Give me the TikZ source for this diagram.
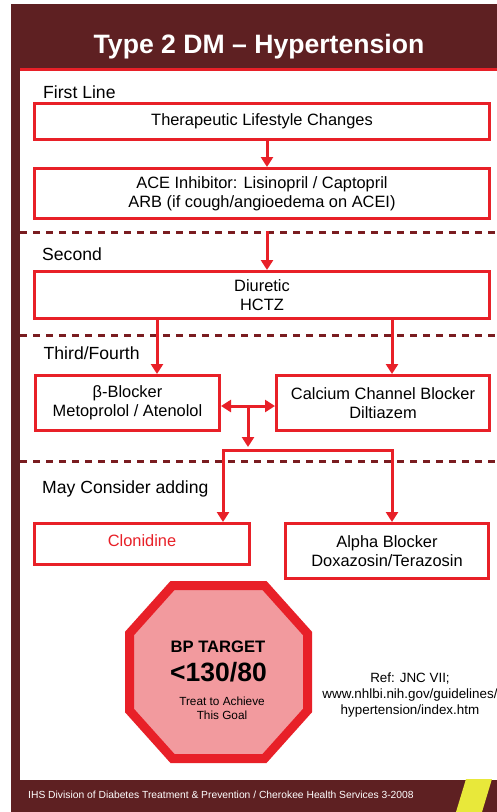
\documentclass[tikz,border=0pt]{standalone}
\usepackage{fontspec}
\setmainfont{Liberation Sans}
\usetikzlibrary{arrows.meta}
\definecolor{frame}{RGB}{94,32,34}
\definecolor{boxred}{RGB}{232,32,40}
\definecolor{dashred}{RGB}{122,28,32}
\definecolor{stoppink}{RGB}{242,154,158}
\definecolor{flash}{RGB}{232,232,58}
\tikzset{box/.style = {draw = boxred, line width = 3, fill = white, align = center,
                       inner sep = 0, font = \fontsize{16.4}{19.4}\selectfont}}
\tikzset{stage/.style = {anchor = base west, inner sep = 0, font = \fontsize{17.6}{20}\selectfont}}
\tikzset{sep/.style = {draw = dashred, line width = 3, dash pattern = on 7pt off 6pt}}
\tikzset{flow/.style = {draw = boxred, line width = 3, -{Triangle[length = 10pt, width = 12pt]}}}
\tikzset{both/.style = {draw = boxred, line width = 3,
                        {Triangle[length = 10pt, width = 12pt]}-{Triangle[length = 10pt, width = 12pt]}}}
\tikzset{goaltext/.style = {anchor = base, inner sep = 0}}

\begin{document}
\begin{tikzpicture}[x = 1pt, y = -1pt]
    \useasboundingbox (0, 0) rectangle (497, 812);
    \clip (0, 0) rectangle (497, 812);
    \fill [white] (0, 0) rectangle (497, 812);
    \fill [frame] (11, 4) rectangle (497, 812);
    \fill [white] (20, 69) rectangle (497, 780);
    \fill [flash] (456, 812) -- (466, 779) -- (492, 779) -- (482, 812) -- cycle;
    \draw [boxred, line width = 2.5] (20, 69.5) -- (497, 69.5);
    \node [anchor = base, inner sep = 0, text = white,
           font = \bfseries\fontsize{26.6}{32}\selectfont] (title) at (259, 53.3)
          {Type 2 DM \textendash{} Hypertension};

    \node [stage] (first) at (43, 98) {First Line};
    \node [stage] (second) at (42, 260.5) {Second};
    \node [stage] (third) at (43.5, 359) {Third/Fourth};
    \node [stage] (maybe) at (42, 493) {May Consider adding};

    \draw [sep] (20, 232) -- (497, 232);
    \draw [sep] (20, 335) -- (497, 335);
    \draw [sep] (20, 461) -- (497, 461);

    \node [box, minimum width = 455, minimum height = 36] (tlc) at (262, 121.5)
          {Therapeutic Lifestyle Changes};
    \node [box, minimum width = 455, minimum height = 50] (ace) at (262, 193.5)
          {ACE Inhibitor: Lisinopril / Captopril\\ARB (if cough/angioedema on ACEI)};
    \node [box, minimum width = 455, minimum height = 47] (diur) at (262, 295)
          {Diuretic\\HCTZ};
    \node [box, minimum width = 184, minimum height = 55] (beta) at (127.5, 403)
          {β-Blocker\\Metoprolol / Atenolol};
    \node [box, minimum width = 213, minimum height = 55] (ccb) at (383, 403)
          {Calcium Channel Blocker\\Diltiazem};
    \node [box, minimum width = 215, minimum height = 41, text depth = 7pt, text = boxred] (clon) at (142, 544)
          {Clonidine};
    \node [box, minimum width = 203, minimum height = 55] (alpha) at (387, 551)
          {Alpha Blocker\\Doxazosin/Terazosin};

    \coordinate (colM) at (267, 0);
    \coordinate (colL) at (157, 0);
    \coordinate (colR) at (392, 0);
    \coordinate (colC) at (223, 0);
    \coordinate (mid) at (248, 406);
    \coordinate (fork) at (248, 450);

    \draw [flow] (tlc.south -| colM) -- (ace.north -| colM);
    \draw [flow, shorten < = 11] (ace.south -| colM) -- (diur.north -| colM);
    \draw [flow] (diur.south -| colL) -- (beta.north -| colL);
    \draw [flow] (diur.south -| colR) -- (ccb.north -| colR);
    \draw [both] (beta.east |- mid) -- (ccb.west |- mid);
    \draw [flow, shorten > = 3] (mid) -- (fork);
    \draw [flow] (fork) -| (clon.north -| colC);
    \draw [flow] (fork) -| (alpha.north -| colR);

    \filldraw [fill = stoppink, draw = boxred, line width = 9]
          (172.5, 585.5) -- (264.5, 585.5) -- (307.5, 633.5) -- (307.5, 710.5)
          -- (264.5, 758.5) -- (172.5, 758.5) -- (129.5, 710.5) -- (129.5, 633.5) -- cycle;
    \node [goaltext, font = \bfseries\fontsize{16.6}{20}\selectfont] (bp) at (218, 652.3) {BP TARGET};
    \node [goaltext, font = \bfseries\fontsize{26.5}{30}\selectfont] (goal) at (218.5, 681) {<130/80};
    \node [goaltext, font = \fontsize{11.8}{14}\selectfont] (treat) at (222, 705) {Treat to Achieve};
    \node [goaltext, font = \fontsize{11.8}{14}\selectfont] (this) at (222, 719) {This Goal};

    \node [align = center, inner sep = 0, font = \fontsize{13.4}{15.7}\selectfont] (ref) at (410, 695.2)
          {Ref: JNC VII;\\www.nhlbi.nih.gov/guidelines/\\hypertension/index.htm};

    \node [anchor = base west, inner sep = 0, text = white,
           font = \fontsize{10.3}{12}\selectfont] (foot) at (28, 798)
          {IHS Division of Diabetes Treatment \& Prevention / Cherokee Health Services 3-2008};
\end{tikzpicture}
\end{document}
